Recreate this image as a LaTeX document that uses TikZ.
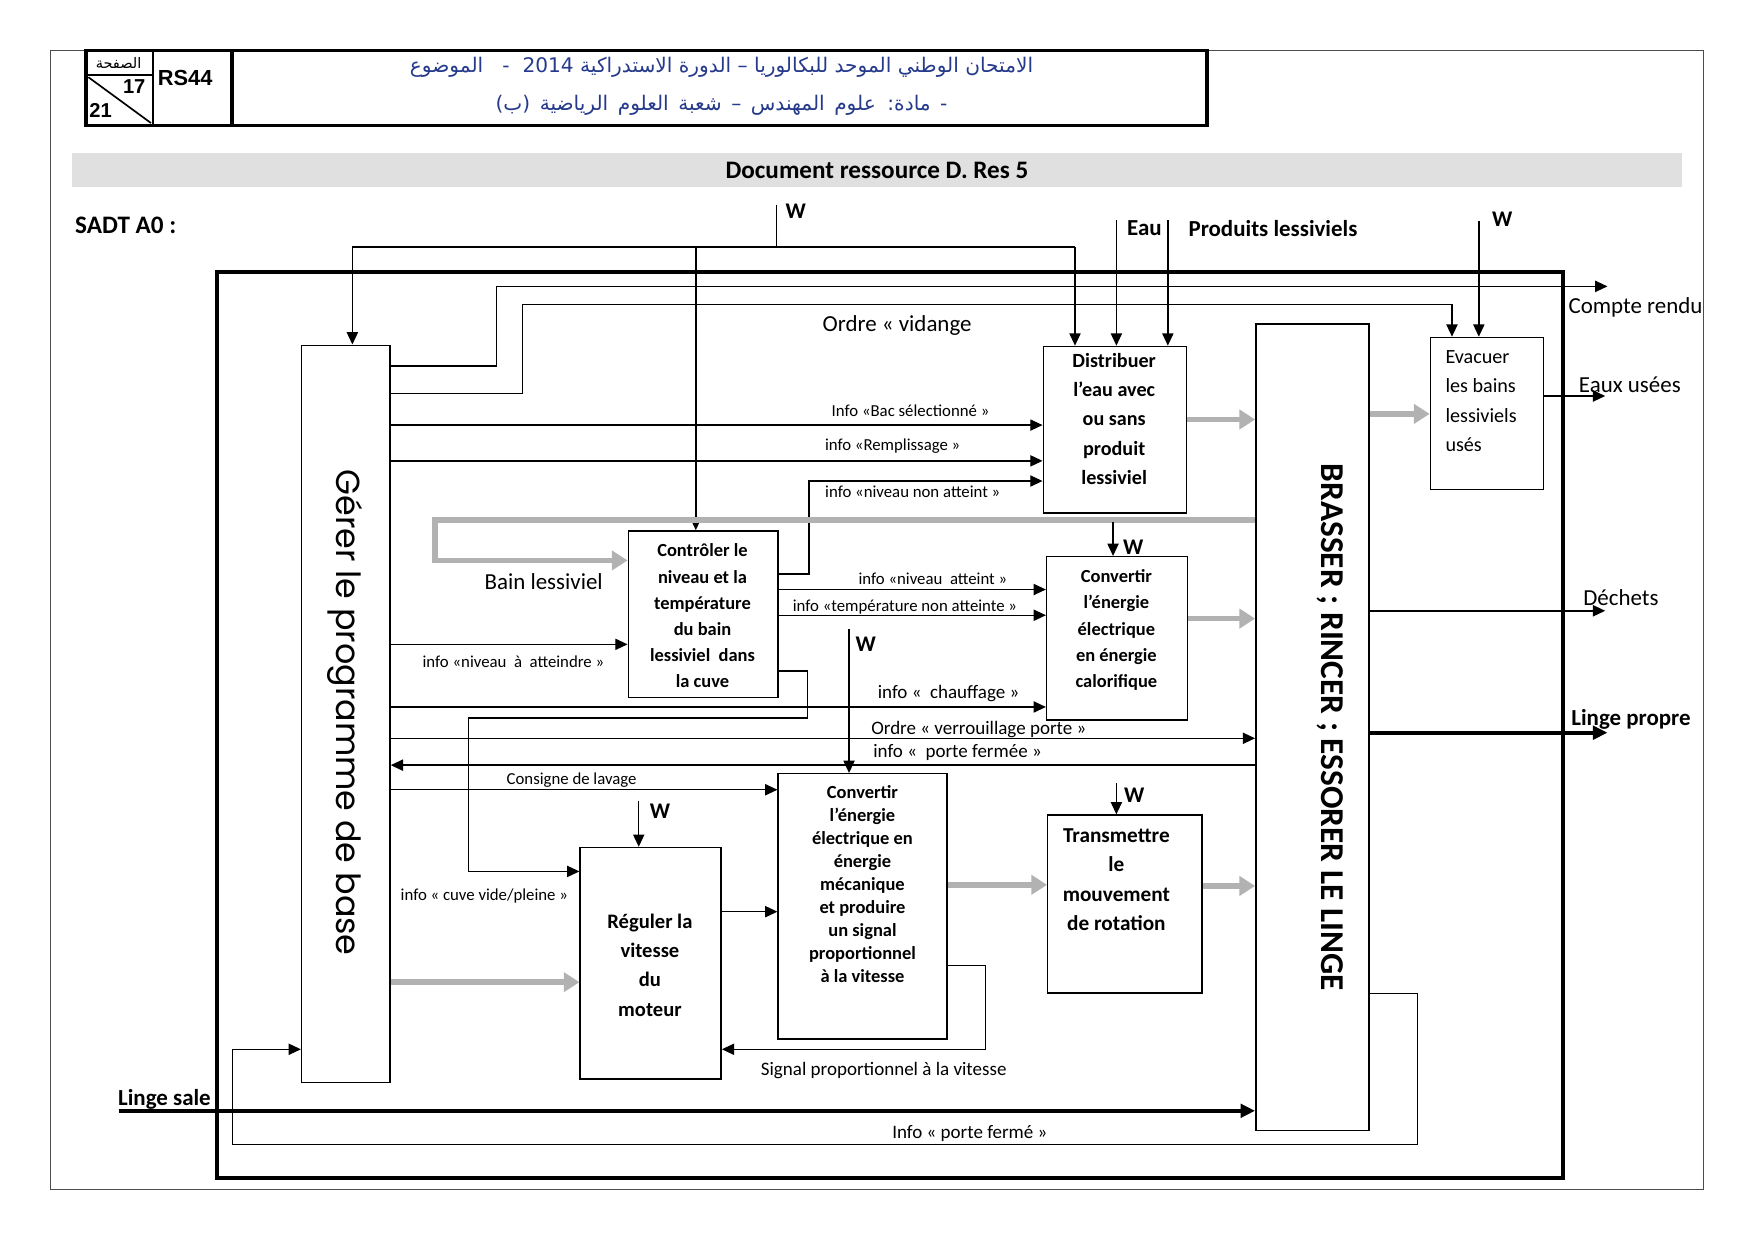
\documentclass[tikz,border=0pt]{standalone}
\usepackage{fontspec}
\setmainfont{Carlito}
\newfontfamily\gothic{Poppins}
\newfontfamily\arialf{Liberation Sans}
\newfontfamily\arabicfont[Script=Arabic]{DejaVu Sans}
\TeXXeTstate=1
\usetikzlibrary{arrows.meta}
\definecolor{gry}{RGB}{178,178,178}
\definecolor{band}{RGB}{224,224,224}
\definecolor{navy}{RGB}{38,58,140}
\begin{document}
\begin{tikzpicture}[x=1pt,y=-1pt,
  ln/.style={line width=1.3pt},
  arr/.style={line width=1.3pt,-{Triangle[length=11pt,width=10pt]}},
  tarr/.style={line width=3.5pt,-{Triangle[length=13pt,width=12pt]}},
  garr/.style={line width=5pt,draw=gry,-{Triangle[length=14pt,width=17pt]}},
  box/.style={draw,line width=1.3pt,anchor=north west,inner sep=0pt},
  btxt/.style={align=center,anchor=north,inner sep=0pt},
  sl/.style={font=\fontsize{15}{17}\selectfont,inner sep=0pt},
  ml/.style={font=\fontsize{17}{19}\selectfont,inner sep=0pt},
  bl/.style={font=\fontsize{20.5}{23}\selectfont,inner sep=0pt},
  wl/.style={font=\bfseries\fontsize{20}{22}\selectfont,inner sep=0pt},
  bb/.style={font=\bfseries\fontsize{20.5}{23}\selectfont,inner sep=0pt},
]
\useasboundingbox (0,0) rectangle (1568,1108.5);
\fill[white] (0,0) rectangle (1568,1108.5);
% page border
\draw[line width=0.8pt,black!70] (45,45) rectangle (1523,1063);
% header
\draw[line width=3pt] (77,45) rectangle (1079,112);
\draw[line width=2pt] (137,45) -- (137,112);
\draw[line width=3.5pt] (207,45) -- (207,112);
\draw[line width=2pt] (77,67) -- (137,67);
\draw[line width=1.5pt] (79,69) -- (135,110);
\node[inner sep=0pt] (pg) at (106,56) {\arabicfont\fontsize{13}{14}\selectfont\beginR الصفحة\endR};
\node[font=\arialf\bfseries\fontsize{18}{19}\selectfont,inner sep=0pt] (p17) at (120,77) {17};
\node[font=\arialf\bfseries\fontsize{18}{19}\selectfont,inner sep=0pt] (p21) at (90,99) {21};
\node[font=\arialf\bfseries\fontsize{19.5}{21}\selectfont,anchor=west,inner sep=0pt] (rs) at (141,70) {RS44};
\node[text=navy,inner sep=0pt] (ar1) at (645,60) {\arabicfont\fontsize{18}{20}\selectfont\beginR الامتحان الوطني الموحد للبكالوريا – الدورة الاستدراكية \beginL 2014\endL{}\ \ - \ \ الموضوع\endR};
\node[text=navy,inner sep=0pt] (ar2) at (645,94) {\arabicfont\fontsize{18}{20}\selectfont\spaceskip=8.5pt plus 2pt minus 1pt\beginR - مادة: علوم المهندس – شعبة العلوم الرياضية (ب)\endR};
% band
\node[fill=band,minimum width=1439pt,minimum height=30pt,anchor=north west,inner sep=0pt] (bandbox) at (64,137) {};
\node[font=\bfseries\fontsize{22.5}{24}\selectfont,inner sep=0pt] (title) at (784,152) {Document ressource D. Res 5};
\node[font=\bfseries\fontsize{22.5}{24}\selectfont,anchor=west,inner sep=0pt] (sadt) at (67,201) {SADT A0 :};
% main frame
\draw[line width=4pt] (194,243) rectangle (1397,1053);
% boxes
\node[box,minimum width=79pt,minimum height=659pt] (gerer) at (269,308) {};
\node[rotate=-90,font=\gothic\fontsize{29.8}{32}\selectfont,inner sep=0pt] (gtxt) at (308,637) {Gérer le programme de base};
\node[box,minimum width=101pt,minimum height=721pt] (brass) at (1122,289) {};
\node[rotate=-90,font=\bfseries\fontsize{29.8}{32}\selectfont,inner sep=0pt] (btx) at (1189,650) {BRASSER ; RINCER ; ESSORER LE LINGE};
\node[box,minimum width=101pt,minimum height=136pt] (evac) at (1278,301) {};
\node[anchor=north west,align=left,inner sep=0pt,font=\fontsize{18}{26.3}\selectfont] (evtx) at (1292,313) {Evacuer\\les bains\\lessiviels\\usés};
\node[box,minimum width=128pt,minimum height=149pt] (distrib) at (932,309) {};
\node[btxt,font=\bfseries\fontsize{18}{26.2}\selectfont] (dtx) at (996,315.5) {Distribuer\\l’eau avec\\ou sans\\produit\\lessiviel};
\node[box,minimum width=134pt,minimum height=149pt] (ctrl) at (561,474) {};
\node[btxt,font=\bfseries\fontsize{16.5}{23.4}\selectfont] (ctx) at (628,486) {Contrôler le\\niveau et la\\température\\du bain\\lessiviel\ \ dans\\la cuve};
\node[box,minimum width=126pt,minimum height=146pt] (convc) at (935,497) {};
\node[btxt,font=\bfseries\fontsize{16.5}{23.5}\selectfont] (cctx) at (998,509) {Convertir\\l’énergie\\électrique\\en énergie\\calorifique};
\node[box,minimum width=151pt,minimum height=237pt] (convm) at (695,691) {};
\node[btxt,font=\bfseries\fontsize{16.5}{20.6}\selectfont] (cmtx) at (771,702) {Convertir\\l’énergie\\électrique en\\énergie\\mécanique\\et produire\\un signal\\proportionnel\\à la vitesse};
\node[box,minimum width=126pt,minimum height=207pt] (reg) at (518,757) {};
\node[btxt,font=\bfseries\fontsize{18.4}{26.3}\selectfont] (rtx) at (581,816.5) {Réguler la\\vitesse\\du\\moteur};
\node[box,minimum width=138pt,minimum height=159pt] (trans) at (936,728) {};
\node[btxt,font=\bfseries\fontsize{19}{26.3}\selectfont] (ttx) at (998,740.5) {Transmettre\\le\\mouvement\\de rotation};
% top W
\coordinate (wtop) at (694,183);
\coordinate (wj) at (694,221);
\draw[ln] (wtop) -- (wj);
\node[wl,anchor=west] (w1) at (702,189) {W};
\draw[ln] (315,221) -- (961,221);
\draw[arr] (315,221) -- (gerer.north -| 315,0);
\draw[arr] (961,221) -- (distrib.north -| 961,0);
\draw[arr] (622,221) -- (ctrl.north -| 622,0);
% compte rendu / vidange
\coordinate (cr) at (1437,256);
\draw[arr] (gerer.east |- 0,327) -| (444,256) -- (cr);
\node[bl,anchor=west] (crl) at (1402,275) {Compte rendu};
\draw[arr] (gerer.east |- 0,352) -| (467,272) -| (evac.north -| 1298,0);
\node[bl] (vid) at (802,291) {Ordre « vidange};
\draw[arr] (1322,198) -- (evac.north -| 1322,0);
\node[wl] (w2) at (1343,196) {W};
\draw[arr] (998,197) -- (distrib.north -| 998,0);
\draw[arr] (1044,197) -- (distrib.north -| 1044,0);
\node[bb] (eau) at (1023,204) {Eau};
\node[bb] (prod) at (1138,204) {Produits lessiviels};
% distrib inputs
\draw[arr] (gerer.east |- 0,380) -- (distrib.west |- 0,380);
\node[sl] at (814,367) {Info «Bac sélectionné »};
\draw[arr] (gerer.east |- 0,412) -- (distrib.west |- 0,412);
\node[sl] at (798,399) {info «Remplissage »};
\draw[arr] (ctrl.east |- 0,513) -| (723,430) -- (distrib.west |- 0,430);
\node[sl] at (816,440) {info «niveau non atteint »};
% bain lessiviel
\draw[garr] (brass.west |- 0,465) -| (389,501) -- (ctrl.west |- 0,501);
\node[bl] (bain) at (486,520) {Bain lessiviel};
\draw[arr] (995,467) -- (convc.north -| 995,0);
\node[wl] (w3) at (1013,489) {W};
% ctrl outputs
\draw[arr] (ctrl.east |- 0,527) -- (convc.west |- 0,527);
\node[sl] at (834,517) {info «niveau\ \ atteint »};
\draw[arr] (ctrl.east |- 0,550) -- (convc.west |- 0,550);
\node[sl] at (809,543) {info «température non atteinte »};
\draw[arr] (ctrl.east |- 0,600) -| (722,642) -| (419,779) -- (reg.west |- 0,779);
\node[sl] at (433,801) {info « cuve vide/pleine »};
\draw[arr] (gerer.east |- 0,576) -- (ctrl.west |- 0,576);
\node[sl] at (459,592) {info «niveau\ \ à\ \ atteindre »};
\draw[arr] (gerer.east |- 0,632) -- (convc.west |- 0,632);
\node[ml] at (848,620) {info «\ \ chauffage »};
\draw[arr] (gerer.east |- 0,660) -- (brass.west |- 0,660);
\node[ml] at (875,652) {Ordre « verrouillage porte »};
\draw[arr] (brass.west |- 0,684) -- (gerer.east |- 0,684);
\node[ml] at (856,673) {info «\ \ porte fermée »};
\draw[arr] (gerer.east |- 0,706) -- (convm.west |- 0,706);
\node[sl] at (511,697) {Consigne de lavage};
\draw[arr] (759,562) -- (convm.north -| 759,0);
\node[wl] (w4) at (774,576) {W};
\draw[arr] (571,716) -- (reg.north -| 571,0);
\node[wl] (w5) at (590,725) {W};
\draw[arr] (998,700) -- (trans.north -| 998,0);
\node[wl] (w6) at (1014,711) {W};
\draw[arr] (reg.east |- 0,815) -- (convm.west |- 0,815);
\draw[garr] (gerer.east |- 0,878) -- (reg.west |- 0,878);
\draw[arr] (convm.east |- 0,863) -| (881,938) -- (reg.east |- 0,938);
\node[ml] at (790,957) {Signal proportionnel à la vitesse};
\draw[garr] (convm.east |- 0,791) -- (trans.west |- 0,791);
\draw[garr] (trans.east |- 0,792) -- (brass.west |- 0,792);
\draw[garr] (distrib.east |- 0,375) -- (brass.west |- 0,375);
\draw[garr] (convc.east |- 0,553) -- (brass.west |- 0,553);
\draw[garr] (brass.east |- 0,370) -- (evac.west |- 0,370);
% outputs right
\coordinate (eu) at (1435,354);
\draw[arr] (evac.east |- 0,354) -- (eu);
\node[bl] at (1457,344) {Eaux usées};
\coordinate (de) at (1435,546);
\draw[arr] (brass.east |- 0,546) -- (de);
\node[bl] at (1449,534) {Déchets};
\coordinate (lp) at (1437,655);
\draw[tarr] (brass.east |- 0,655) -- (lp);
\node[bb] at (1458,643) {Linge propre};
\coordinate (ls) at (106,993);
\draw[tarr] (ls) -- (brass.west |- 0,993);
\node[bb] at (147,983) {Linge sale};
\draw[arr] (brass.east |- 0,888) -| (1267,1023) -| (208,938) -- (gerer.west |- 0,938);
\node[ml] at (867,1013) {Info « porte fermé »};
\end{tikzpicture}
\end{document}
